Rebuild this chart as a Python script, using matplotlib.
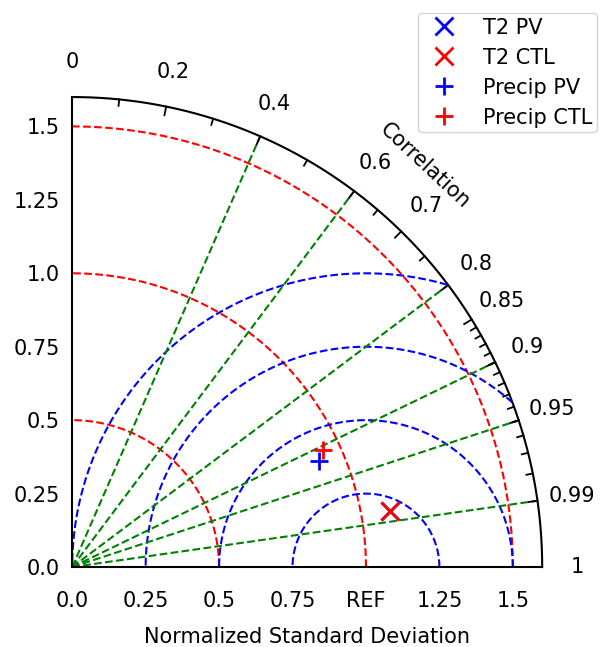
import numpy as np
import matplotlib
matplotlib.use('Agg')
import matplotlib.pyplot as plt

# normalized std dev and correlation of each model run
labels = ['T2 PV', 'T2 CTL', 'Precip PV', 'Precip CTL']
stddev = [1.097, 1.098, 0.914, 0.942]
corr = [0.985, 0.985, 0.919, 0.906]
markers = ['x', 'x', '+', '+']
colors = ['blue', 'red', 'blue', 'red']

# diagram grid settings
smax = 1.6
std_ticks = [0.0, 0.25, 0.5, 0.75, 1.0, 1.25, 1.5]
std_xlabels = ['0.0', '0.25', '0.5', '0.75', 'REF', '1.25', '1.5']
std_ylabels = ['0.0', '0.25', '0.5', '0.75', '1.0', '1.25', '1.5']
corr_labels = [0, 0.2, 0.4, 0.6, 0.7, 0.8, 0.85, 0.9, 0.95, 0.99, 1]
corr_minor = [0.1, 0.3, 0.5, 0.65, 0.75] + [round(0.86 + 0.01 * i, 2) for i in range(13)]
corr_lines = [0.4, 0.6, 0.8, 0.9, 0.95, 0.99]
std_arcs = [0.5, 1.0, 1.5]
rms_arcs = [0.25, 0.5, 0.75, 1.0]

plt.rcParams['font.size'] = 15
fig = plt.figure(figsize=(6.0, 6.47), dpi=100)
ax = fig.add_axes([0.12, 0.1236, 0.784, 0.7264])
ax.set_xlim(0, smax)
ax.set_ylim(0, smax)
ax.set_aspect('equal')

for s in ['top', 'right']:
    ax.spines[s].set_visible(False)
for s in ['left', 'bottom']:
    ax.spines[s].set_linewidth(1.5)

ax.set_xticks(std_ticks)
ax.set_xticklabels(std_xlabels)
ax.set_yticks(std_ticks)
ax.set_yticklabels(std_ylabels)
ax.tick_params(axis='x', length=0, pad=17)
ax.tick_params(axis='y', length=0, pad=9)
ax.set_xlabel('Normalized Standard Deviation', labelpad=12)

# outer arc
t = np.linspace(0, np.pi / 2, 300)
ax.plot(smax * np.cos(t), smax * np.sin(t), color='black', lw=1.5, clip_on=False)

# std dev arcs (red)
for r in std_arcs:
    ax.plot(r * np.cos(t), r * np.sin(t), color='red', ls='--', lw=1.5)

# centred RMS arcs (blue), clipped to the outer arc
for r in rms_arcs:
    a = np.linspace(0, np.pi, 600)
    x = 1 + r * np.cos(a)
    y = r * np.sin(a)
    ok = (x ** 2 + y ** 2 <= smax ** 2) & (x >= 0)
    ax.plot(np.where(ok, x, np.nan), np.where(ok, y, np.nan), color='blue', ls='--', lw=1.5)

# correlation lines (green)
for c in corr_lines:
    th = np.arccos(c)
    ax.plot([0, smax * np.cos(th)], [0, smax * np.sin(th)], color='green', ls='--', lw=1.5)

# ticks on the outer arc
for c in corr_labels[1:-1]:
    th = np.arccos(c)
    ax.plot([smax * np.cos(th), (smax - 0.03) * np.cos(th)],
            [smax * np.sin(th), (smax - 0.03) * np.sin(th)], color='black', lw=1.3)
for c in corr_minor:
    th = np.arccos(c)
    ax.plot([smax * np.cos(th), (smax - 0.022) * np.cos(th)],
            [smax * np.sin(th), (smax - 0.022) * np.sin(th)], color='black', lw=1.3)

for c in corr_labels:
    th = np.arccos(c)
    ax.text(1.72 * np.cos(th), 1.72 * np.sin(th), str(c), ha='center', va='center',
            clip_on=False)
th = np.radians(48.7)
ax.text(1.82 * np.cos(th), 1.82 * np.sin(th), 'Correlation', rotation=-43,
        ha='center', va='center', rotation_mode='anchor')

# model points
for lab, s, c, m, col in zip(labels, stddev, corr, markers, colors):
    th = np.arccos(c)
    ax.plot(s * np.cos(th), s * np.sin(th), marker=m, color=col, ls='none',
            ms=13, mew=2, label=lab, clip_on=False, zorder=5)

fig.legend(loc='upper right', bbox_to_anchor=(0.995, 0.98), fontsize=15,
           handlelength=2.06, handletextpad=0.84, borderpad=0.22, labelspacing=0.48,
           borderaxespad=0)

fig.savefig('out.png', dpi=100)
